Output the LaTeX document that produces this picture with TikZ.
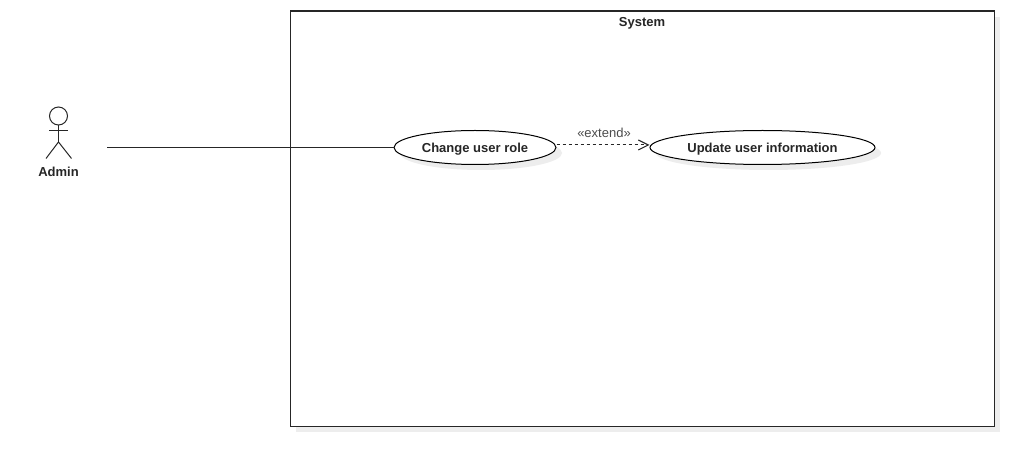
\documentclass[tikz,border=0pt]{standalone}
\usepackage{fontspec}
\setmainfont{Liberation Sans}
\usetikzlibrary{arrows.meta,shapes.geometric}
\definecolor{shadowgray}{gray}{0.93}
\definecolor{labelgray}{gray}{0.3}

\begin{document}
\begin{tikzpicture}[
            x=0.75pt, y=-0.75pt,
            labelfont/.style={font=\fontsize{9.75pt}{11pt}\selectfont\bfseries},
            system/.style={rectangle, draw=black!85, line width=0.8pt, fill=white, minimum width=528pt, minimum height=311.25pt, anchor=north west, inner sep=0pt},
            usecase/.style={ellipse, draw=black, line width=0.75pt, fill=white, text=black!85, minimum height=25.5pt, inner sep=0pt, text depth=0pt, labelfont},
            ucshadow/.style={ellipse, fill=shadowgray, minimum height=25.5pt, inner sep=0pt},
            shadowbox/.style={rectangle, fill=shadowgray, minimum width=528pt, minimum height=311.25pt, anchor=north west, inner sep=0pt},
            actorline/.style={black!85, line width=0.75pt},
            assoc/.style={black!85, line width=0.8pt},
            extendarrow/.style={-{Straight Barb[length=7.5pt, width=7.5pt]}, black!85, line width=0.8pt, dash pattern=on 2.25pt off 2.25pt}
            ]
            \useasboundingbox (0,0) rectangle (1034,466);

            % System boundary
            \node[shadowbox] (systemshadow) at (296,16.5) {};
            \node[system] (system) at (290,10.5) {};
            \node[labelfont, text=black!85] (systemlabel) at (642,23) {System};

            % Use cases
            \node[ucshadow, minimum width=121.5pt] (changeshadow) at (481,153) {};
            \node[ucshadow, minimum width=168.75pt] (updateshadow) at (768.5,153) {};
            \node[usecase, minimum width=121.5pt] (change) at (475,147.5) {Change user role};
            \node[usecase, minimum width=168.75pt] (update) at (762.5,147.5) {Update user information};

            % Actor
            \node[circle, draw=black!85, line width=0.75pt, minimum size=13.5pt, inner sep=0pt] (head) at (58.5,116) {};
            \coordinate (neck) at (58.5,142);
            \coordinate (armleft) at (49,130.5);
            \coordinate (armright) at (68,130.5);
            \coordinate (footleft) at (46,158.5);
            \coordinate (footright) at (71.5,158.5);
            \draw[actorline] (head.south) -- (neck);
            \draw[actorline] (armleft) -- (armright);
            \draw[actorline] (footleft) -- (neck) -- (footright);
            \node[labelfont, text=black!85] (admin) at (58.5,172) {Admin};

            % Connectors
            \coordinate (adminend) at (107,147.5);
            \draw[assoc] (adminend) -- (change.west);
            \draw[extendarrow] ([yshift=1.9pt]change.east) -- node[above, yshift=1.5pt, xshift=0.75pt, text=labelgray, font=\fontsize{9.75pt}{11pt}\selectfont] (extendlabel) {«extend»} ([yshift=1.9pt]update.west);

        \end{tikzpicture}
\end{document}
